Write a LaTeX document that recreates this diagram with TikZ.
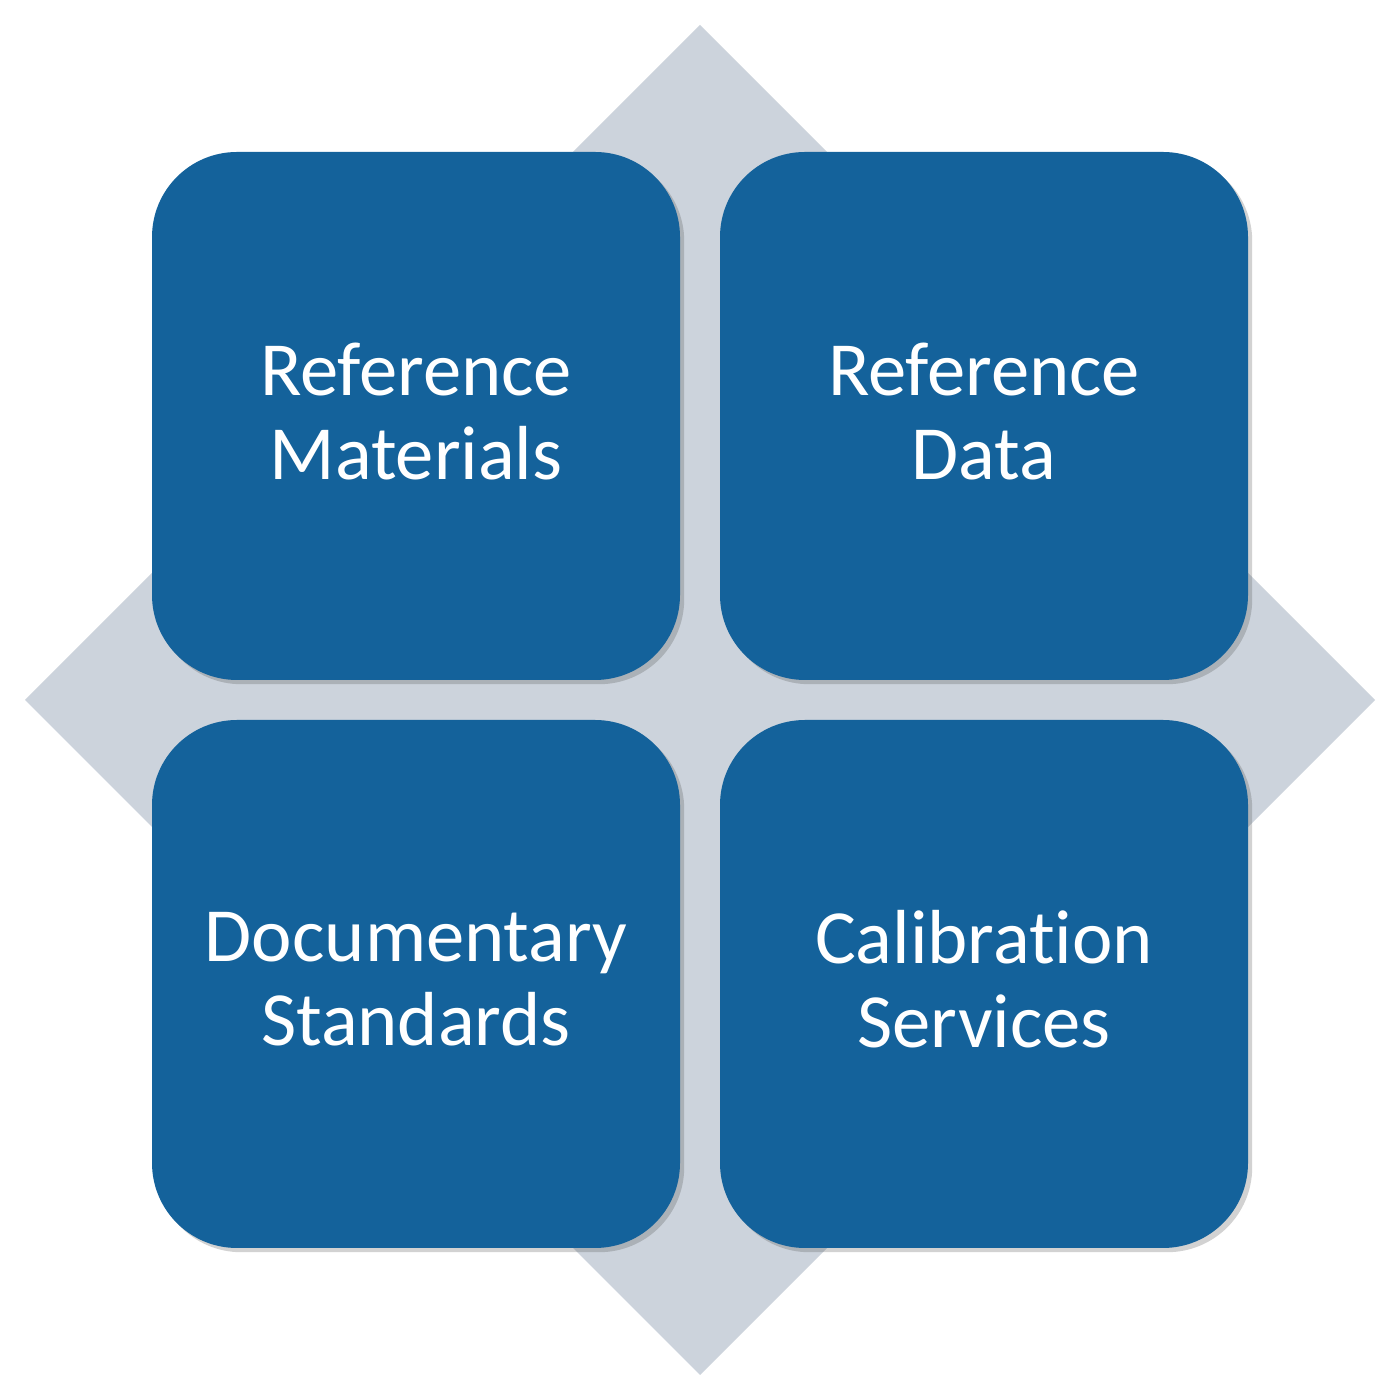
\documentclass[tikz,border=0pt]{standalone}
\usepackage{fontspec}
\setmainfont{Carlito}[Ligatures=NoCommon]
\usepackage{tikz}
\usetikzlibrary{shadows}
\definecolor{boxblue}{HTML}{14629B}
\definecolor{diamondgrey}{HTML}{CCD3DC}
\tikzstyle{block} = [rectangle, fill=boxblue, rounded corners=0.85cm,
                 minimum size=5.28cm, inner sep=0pt, align=center,
                 text=white, text depth=0.1cm, font=\fontsize{21.8pt}{24pt}\selectfont,
                 drop shadow={shadow xshift=1.2pt, shadow yshift=-1.2pt, opacity=0.25, fill=black!70}]
\tikzstyle{backdrop} = [fill=diamondgrey]

\begin{document}
\begin{tikzpicture}

\useasboundingbox (0,0) rectangle (14,14);

% diamond behind the blocks
\path [backdrop] (7,13.75) -- (13.75,7) -- (7,0.25) -- (0.25,7) -- cycle;

\node [block] at (4.16,9.84) (materials) {Reference\\Materials};
\node [block] at (9.84,9.84) (data) {Reference\\Data};
\node [block] at (4.16,4.16) (standards) {Documentary\\Standards};
\node [block] at (9.84,4.16) (calibration) {Calibration\\Services};

\end{tikzpicture}
\end{document}
